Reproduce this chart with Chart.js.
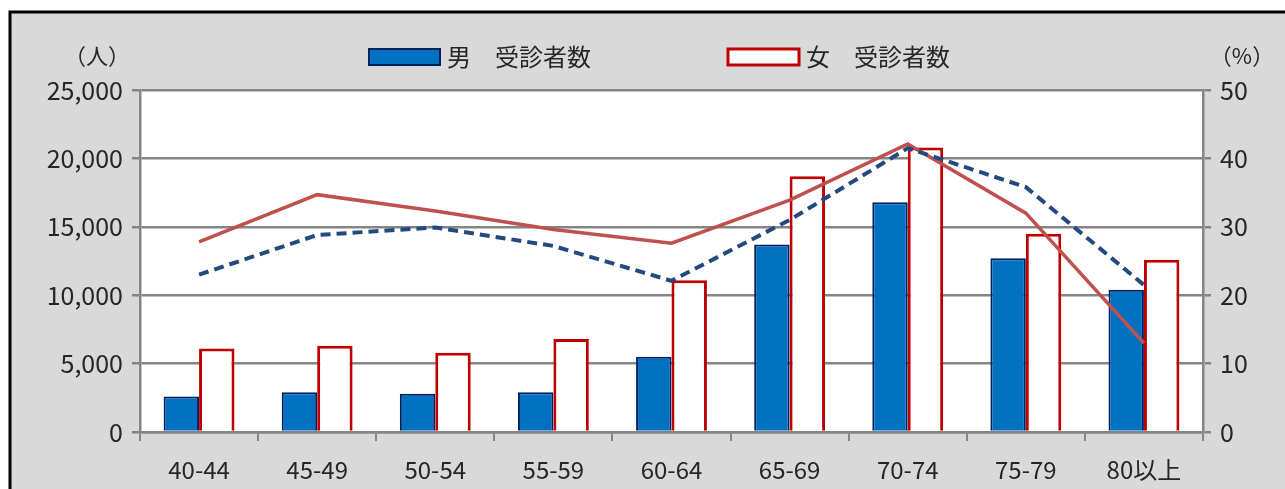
<!DOCTYPE html>
<html>
<head>
<meta charset="utf-8">
<script src="https://cdn.jsdelivr.net/npm/chart.js@4.4.0/dist/chart.umd.min.js"></script>
<style>
  html, body { margin: 0; padding: 0; background: #ffffff; }
  canvas { display: block; }
</style>
</head>
<body>
<canvas id="c1" width="1285" height="489"></canvas>
<script>
// 年齢階級
var categories = ["40-44", "45-49", "50-54", "55-59", "60-64", "65-69", "70-74", "75-79", "80以上"];
// 受診者数（人）
var maleCount = [2600, 2900, 2800, 2900, 5500, 13700, 16800, 12700, 10400];
var femaleCount = [6100, 6300, 5800, 6800, 11100, 18700, 20800, 14500, 12600];
// 受診率（%）
var maleRate = [23.0, 28.8, 29.9, 27.2, 22.1, 31.0, 41.5, 35.8, 21.5];
var femaleRate = [27.8, 34.7, 32.3, 29.6, 27.6, 33.9, 42.1, 32.0, 13.0];

var FONT = "'Noto Sans CJK JP', 'Noto Sans', sans-serif";
var TEXT = "#262626";
var GRID = "#858585";

// frame, grey background, white plot area, legend and unit labels
var decor = {
  id: "decor",
  beforeDraw: function(chart) {
    var c = chart.ctx, a = chart.chartArea;
    c.save();
    c.fillStyle = "#ffffff";
    c.fillRect(0, 0, chart.width, chart.height);
    c.fillStyle = "#d9d9d9";
    c.fillRect(10, 12, chart.width - 10, chart.height - 12);
    c.strokeStyle = "#000000";
    c.lineWidth = 3;
    c.beginPath();
    c.moveTo(10, chart.height);
    c.lineTo(10, 12);
    c.lineTo(chart.width, 12);
    c.stroke();
    c.fillStyle = "#ffffff";
    c.fillRect(a.left, a.top, a.right - a.left, a.bottom - a.top);
    c.restore();
  },
  afterDraw: function(chart) {
    var c = chart.ctx;
    c.save();
    c.font = "22px " + FONT;
    c.fillStyle = TEXT;
    c.textBaseline = "middle";
    c.textAlign = "center";
    c.fillText("（人）", 97, 56);
    c.fillText("（%）", 1242, 56);

    // legend for the two bar series
    var items = [{ ds: chart.data.datasets[2], x: 369 }, { ds: chart.data.datasets[3], x: 728 }];
    c.textAlign = "left";
    c.font = "24px " + FONT;
    items.forEach(function(it) {
      c.fillStyle = it.ds.backgroundColor;
      c.fillRect(it.x, 49, 71, 16);
      c.strokeStyle = it.ds.borderColor;
      c.lineWidth = it.ds.borderWidth;
      c.strokeRect(it.x, 49, 71, 16);
      c.fillStyle = TEXT;
      c.fillText(it.ds.label, it.x + 78, 57);
    });
    c.restore();
  }
};

new Chart(document.getElementById("c1"), {
  data: {
    labels: categories,
    datasets: [
      {
        type: "line",
        label: "男　受診率",
        data: maleRate,
        yAxisID: "yRate",
        borderColor: "#24497e",
        borderWidth: 4,
        borderDash: [10, 6],
        pointRadius: 0,
        tension: 0,
        order: 0
      },
      {
        type: "line",
        label: "女　受診率",
        data: femaleRate,
        yAxisID: "yRate",
        borderColor: "#c0504d",
        borderWidth: 3.5,
        pointRadius: 0,
        tension: 0,
        order: 0
      },
      {
        type: "bar",
        label: "男　受診者数",
        data: maleCount,
        yAxisID: "yCount",
        backgroundColor: "#0070c0",
        borderColor: "#002060",
        borderWidth: 2,
        borderSkipped: "bottom",
        categoryPercentage: 0.6,
        barPercentage: 1.0,
        order: 1
      },
      {
        type: "bar",
        label: "女　受診者数",
        data: femaleCount,
        yAxisID: "yCount",
        backgroundColor: "#ffffff",
        borderColor: "#c00000",
        borderWidth: 3,
        borderSkipped: "bottom",
        categoryPercentage: 0.6,
        barPercentage: 1.0,
        order: 1
      }
    ]
  },
  options: {
    responsive: false,
    animation: false,
    devicePixelRatio: 1,
    layout: { padding: { top: 90, left: 0, right: 0, bottom: 0 } },
    plugins: {
      legend: { display: false },
      tooltip: { enabled: false }
    },
    scales: {
      x: {
        grid: { display: true, offset: true, drawOnChartArea: false, drawTicks: true, tickLength: 9, color: GRID, lineWidth: 2 },
        border: { display: true, color: GRID, width: 2.5 },
        ticks: { font: { family: FONT, size: 24 }, color: TEXT, padding: 14 },
        afterFit: function(s) { s.height = 57; }
      },
      yCount: {
        position: "left",
        min: 0,
        max: 25000,
        ticks: {
          stepSize: 5000,
          font: { family: FONT, size: 25 },
          color: TEXT,
          padding: 9,
          callback: function(v) { return v.toLocaleString("en-US"); }
        },
        grid: { color: GRID, lineWidth: 2.5, tickLength: 8 },
        border: { display: true, color: GRID, width: 2.5 },
        afterFit: function(s) { s.width = 140; }
      },
      yRate: {
        position: "right",
        min: 0,
        max: 50,
        ticks: { stepSize: 10, font: { family: FONT, size: 25 }, color: TEXT, padding: 9 },
        grid: { drawOnChartArea: false, color: GRID, lineWidth: 2.5, tickLength: 8 },
        border: { display: true, color: GRID, width: 2.5 },
        afterFit: function(s) { s.width = 82; }
      }
    }
  },
  plugins: [decor]
});
</script>
</body>
</html>
